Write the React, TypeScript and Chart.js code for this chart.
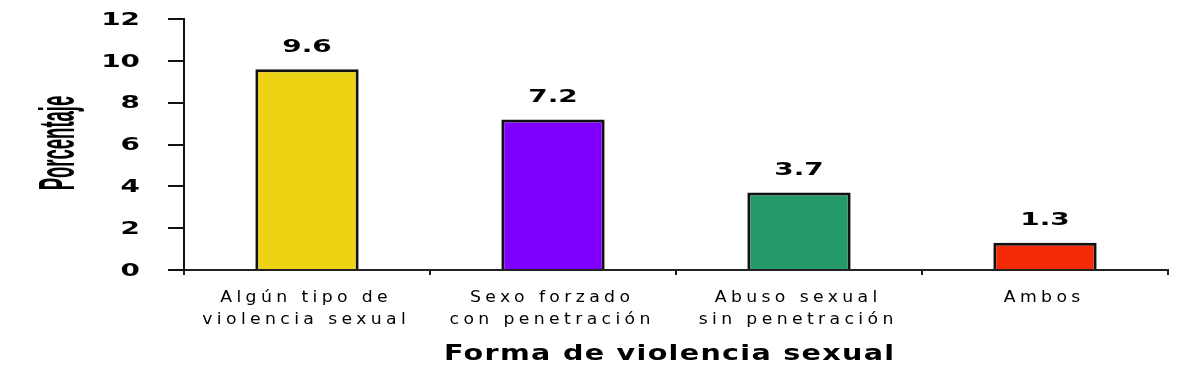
import React, { useEffect, useRef } from "react";
import { Chart, registerables } from "chart.js";

Chart.register(...registerables);

const categories: string[][] = [
  ["Algún tipo de", "violencia sexual"],
  ["Sexo forzado", "con penetración"],
  ["Abuso sexual", "sin penetración"],
  ["Ambos"],
];
const values: number[] = [9.6, 7.2, 3.7, 1.3];
const barColors: string[] = ["#EDD314", "#7F00FF", "#24996A", "#F42A08"];
const yMin = 0;
const yMax = 12;
const yStep = 2;
const xTitle = "Forma de violencia sexual";
const yTitle = "Porcentaje";

type TextOpts = {
  font: string;
  sx?: number;
  spacing?: number;
  align?: "left" | "center" | "right";
  rotate?: number;
  color?: string;
};

function drawText(ctx: CanvasRenderingContext2D, text: string, x: number, y: number, o: TextOpts) {
  const sx = o.sx ?? 1;
  const spacing = o.spacing ?? 0;
  ctx.save();
  ctx.font = o.font;
  (ctx as any).letterSpacing = spacing + "px";
  ctx.textBaseline = "middle";
  ctx.textAlign = "left";
  ctx.fillStyle = o.color ?? "#000";
  const w = (ctx.measureText(text).width - spacing) * sx;
  ctx.translate(x, y);
  if (o.rotate) ctx.rotate(o.rotate);
  const align = o.align ?? "center";
  const left = align === "center" ? -w / 2 : align === "right" ? -w : 0;
  ctx.translate(left, 0);
  ctx.scale(sx, 1);
  ctx.fillText(text, 0, 0);
  ctx.restore();
}

const textPlugin = {
  id: "textPlugin",
  afterDraw(chart: any) {
    const ctx: CanvasRenderingContext2D = chart.ctx;
    const xs = chart.scales.x;
    const ys = chart.scales.y;
    const area = chart.chartArea;
    // y tick labels
    ys.ticks.forEach((t: any) => {
      const py = ys.getPixelForValue(t.value);
      drawText(ctx, String(t.value), area.left - 44, py + 1, {
        font: "bold 18px 'DejaVu Sans'",
        sx: 1.55,
        align: "right",
      });
    });
    // x tick labels
    categories.forEach((lines, i) => {
      const px = xs.getPixelForValue(i);
      lines.forEach((ln, j) => {
        drawText(ctx, ln, px - 3, area.bottom + 28 + j * 22, {
          font: "15px 'DejaVu Sans'",
          sx: 1.15,
          spacing: 3.8,
          align: "center",
        });
      });
    });
    // value labels
    const meta = chart.getDatasetMeta(0);
    meta.data.forEach((el: any, i: number) => {
      drawText(ctx, values[i].toFixed(1), el.x, el.y - 22, {
        font: "bold 18px 'DejaVu Sans'",
        sx: 1.55,
        align: "center",
      });
    });
    // x title
    drawText(ctx, xTitle, (area.left + area.right) / 2 - 7, area.bottom + 84, {
      font: "bold 22px 'DejaVu Sans'",
      sx: 1.3,
      spacing: 1,
      align: "center",
    });
    // y title
    drawText(ctx, yTitle, 60, 143, {
      font: "bold 50px 'Liberation Sans'",
      sx: 0.37,
      align: "center",
      rotate: -Math.PI / 2,
    });
  },
};

export default function App() {
  const ref = useRef<HTMLCanvasElement | null>(null);
  useEffect(() => {
    if (!ref.current) return;
    const chart = new Chart(ref.current, {
      type: "bar",
      data: {
        labels: categories.map((c) => c.join(" ")),
        datasets: [
          {
            data: values,
            backgroundColor: barColors,
            borderColor: "#111",
            borderWidth: 3,
            borderSkipped: "bottom",
            categoryPercentage: 1,
            barPercentage: 0.42,
          },
        ],
      },
      options: {
        responsive: false,
        animation: false,
        layout: { padding: { left: 168, top: 19, right: 21, bottom: 99 } },
        plugins: { legend: { display: false }, tooltip: { enabled: false } },
        scales: {
          x: {
            ticks: { display: false },
            grid: { drawOnChartArea: false, drawTicks: true, tickLength: 5, color: "#222", lineWidth: 2, offset: true },
            border: { display: true, color: "#222", width: 2 },
          },
          y: {
            min: yMin,
            max: yMax,
            ticks: { display: false, stepSize: yStep },
            grid: { drawOnChartArea: false, drawTicks: true, tickLength: 16, color: "#111", lineWidth: 2 },
            border: { display: true, color: "#111", width: 2 },
          },
        },
      },
      plugins: [textPlugin],
    });
    return () => chart.destroy();
  }, []);
  return (
    <div style={{ position: "fixed", left: 0, top: 0, width: 1189, height: 374, background: "#fff" }}>
      <canvas ref={ref} width={1189} height={374} style={{ display: "block" }} />
    </div>
  );
}
